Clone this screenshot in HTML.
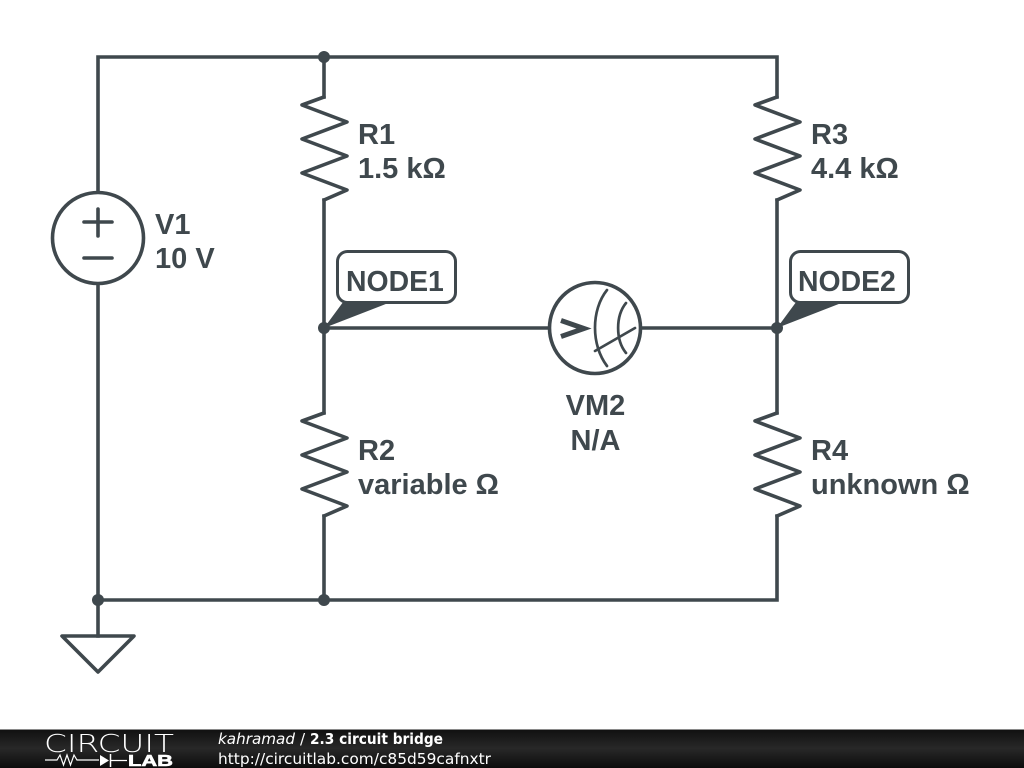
<!DOCTYPE html>
<html>
<head>
<meta charset="utf-8">
<style>
html,body{margin:0;padding:0;background:#fff;width:1024px;height:768px;overflow:hidden}
svg{display:block}
.w{fill:none;stroke:#3f484d;stroke-width:3.600;stroke-linejoin:miter;stroke-linecap:square}
.r{stroke-linejoin:round;stroke-linecap:round}
.t{font-family:"Liberation Sans",sans-serif;font-weight:bold;font-size:29px;fill:#3f484d}
.n{font-size:28.400px}
.f{font-family:"DejaVu Sans",sans-serif;font-size:15.200px;fill:#fff}
</style>
</head>
<body>
<svg width="1024" height="768" viewBox="0 0 1024 768" xmlns="http://www.w3.org/2000/svg">
<defs>
<linearGradient id="bar" x1="0" y1="0" x2="0" y2="1">
<stop offset="0" stop-color="#101010"/>
<stop offset="0.5" stop-color="#282828"/>
<stop offset="1" stop-color="#0c0c0c"/>
</linearGradient>
</defs>
<rect width="1024" height="768" fill="#fff"/>

<!-- wires -->
<path class="w" d="M98 193V57H777V97"/>
<path class="w" d="M324 57V97"/>
<path class="w" d="M324 200V413"/>
<path class="w" d="M777 200V413"/>
<path class="w" d="M324 328H550"/>
<path class="w" d="M641 328H777"/>
<path class="w" d="M98 284V636"/>
<path class="w" d="M98 600H777V516"/>
<path class="w" d="M324 516V600"/>

<!-- resistors -->
<path class="w r" d="M324 97L302 105L347 122L302 139L347 156L302 173L347 190L324 200"/>
<path class="w r" d="M777 97L755 105L800 122L755 139L800 156L755 173L800 190L777 200"/>
<path class="w r" d="M324 413L302 421L347 438L302 455L347 472L302 489L347 506L324 516"/>
<path class="w r" d="M777 413L755 421L800 438L755 455L800 472L755 489L800 506L777 516"/>

<!-- V1 -->
<circle class="w" cx="98" cy="238" r="45.500" style="fill:#fff"/>
<path class="w r" d="M98 209V236M84 222H112M84 258H112"/>

<!-- Voltmeter -->
<circle class="w" cx="595" cy="328" r="45.500" style="fill:#fff"/>
<path d="M561 320.500L584 328.500L561 336.500" fill="none" stroke="#3f484d" stroke-width="5"/>
<path d="M607 290C591 310 591 345 607 366" fill="none" stroke="#3f484d" stroke-width="2.700" stroke-linecap="round"/>
<path d="M626 303C615.500 316 615.500 340 626 353" fill="none" stroke="#3f484d" stroke-width="2.700" stroke-linecap="round"/>
<path d="M595 351L635 328" fill="none" stroke="#3f484d" stroke-width="2.700" stroke-linecap="round"/>

<!-- ground -->
<path class="w r" d="M62 636H134L98 672Z"/>

<!-- node dots -->
<circle cx="324" cy="57" r="6" fill="#3f484d"/>
<circle cx="324" cy="328" r="6" fill="#3f484d"/>
<circle cx="777" cy="328" r="6" fill="#3f484d"/>
<circle cx="98" cy="600" r="6" fill="#3f484d"/>
<circle cx="324" cy="600" r="6" fill="#3f484d"/>

<!-- node labels -->
<path d="M324 328L344.600 300H396Z" fill="#3f484d"/>
<rect x="337.500" y="251.500" width="118" height="51" rx="10" fill="#fff" stroke="#3f484d" stroke-width="3"/>
<text class="t n" x="346" y="291">NODE1</text>
<path d="M777 328L797.600 300H849Z" fill="#3f484d"/>
<rect x="790.500" y="251.500" width="118" height="51" rx="10" fill="#fff" stroke="#3f484d" stroke-width="3"/>
<text class="t n" x="798" y="291">NODE2</text>

<!-- labels -->
<text class="t" x="358" y="144">R1</text>
<text class="t" x="358" y="178">1.5 kΩ</text>
<text class="t" x="811" y="144">R3</text>
<text class="t" x="811" y="178">4.4 kΩ</text>
<text class="t" x="358" y="460">R2</text>
<text class="t" x="358" y="494">variable Ω</text>
<text class="t" x="811" y="460">R4</text>
<text class="t" x="811" y="494">unknown Ω</text>
<text class="t" x="155" y="234">V1</text>
<text class="t" x="155" y="268">10 V</text>
<text class="t" x="595.500" y="415" text-anchor="middle">VM2</text>
<text class="t" x="595.500" y="450" text-anchor="middle">N/A</text>

<!-- footer -->
<rect y="729" width="1024" height="39" fill="url(#bar)"/>
<rect y="729" width="1024" height="1" fill="#8a8a8a"/>
<text x="44" y="752" font-family="DejaVu Sans,sans-serif" font-weight="200" font-size="25" fill="#fff" textLength="130" lengthAdjust="spacingAndGlyphs">CIRCUIT</text>
<path d="M45 760H57L60 755L63.500 765L67 755L70.500 765L74 755L77 760H99" fill="none" stroke="#fff" stroke-width="1.200"/>
<path d="M100 755V766L109 760.500Z" fill="#fff"/>
<path d="M110.500 754V767" stroke="#fff" stroke-width="1.500"/>
<path d="M110 760.500H127" stroke="#fff" stroke-width="1.200"/>
<text x="128" y="766" font-family="Liberation Sans,sans-serif" font-weight="bold" font-size="15.500" fill="#fff" stroke="#fff" stroke-width="0.600" textLength="45" lengthAdjust="spacingAndGlyphs">LAB</text>
<text class="f" x="218" y="744" font-style="italic" textLength="77" lengthAdjust="spacingAndGlyphs">kahramad</text>
<text class="f" x="300" y="744">/</text>
<text class="f" x="310" y="744" font-weight="bold" textLength="133" lengthAdjust="spacingAndGlyphs">2.3 circuit bridge</text>
<text class="f" x="218" y="764" textLength="273" lengthAdjust="spacingAndGlyphs">http://circuitlab.com/c85d59cafnxtr</text>
</svg>
</body>
</html>
